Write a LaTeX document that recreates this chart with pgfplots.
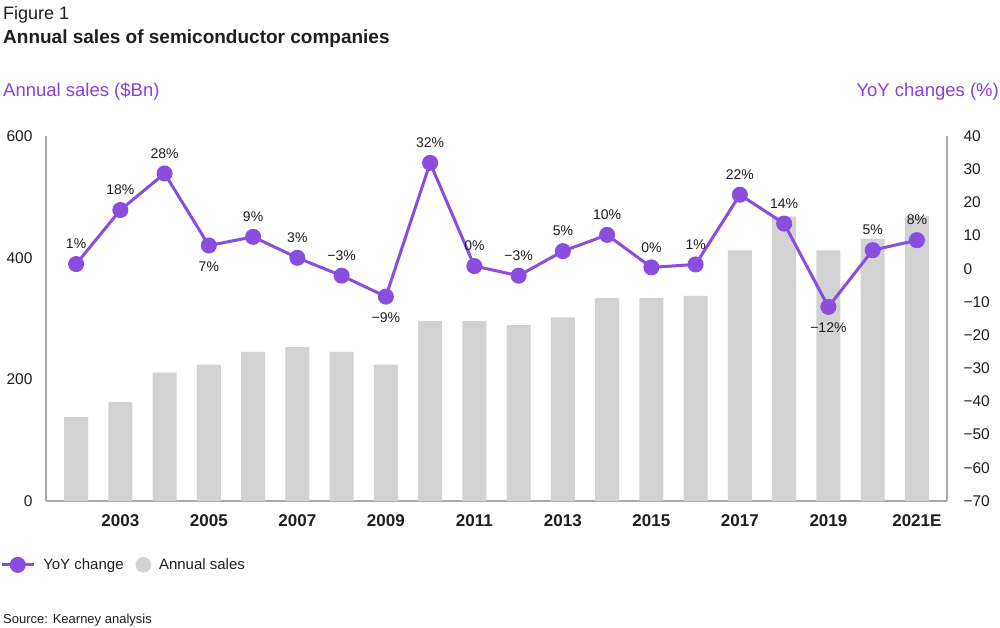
\documentclass[border=0pt]{standalone}
\usepackage{fontspec}
\setmainfont{Liberation Sans}
\usepackage{pgfplots}
\pgfplotsset{compat=1.18}
\usepackage{pgfplotstable}
\definecolor{kpurple}{RGB}{138,78,222}
\definecolor{kpurpletext}{RGB}{135,65,220}
\definecolor{bargray}{RGB}{210,210,210}
\definecolor{axgray}{RGB}{170,170,170}
\definecolor{txt}{RGB}{30,30,30}
\pgfplotsset{mylegend/.style={legend image code/.code={\draw[mark repeat=2,mark phase=2,##1] plot coordinates {(0pt,0pt) (16pt,0pt) (32pt,0pt)};}}}

\pgfplotstableread{
x y
0 138
1 163
2 211
3 224
4 245
5 253
6 245
7 224
8 296
9 296
10 289
11 302
12 334
13 334
14 337
15 412
16 468
17 412
18 431
19 468
}\sales

\pgfplotstableread{
x y
0 1.4
1 17.7
2 28.7
3 7.0
4 9.6
5 3.3
6 -2.1
7 -8.4
8 31.9
9 0.8
10 -2.1
11 5.3
12 10.2
13 0.4
14 1.3
15 22.3
16 13.6
17 -11.5
18 5.6
19 8.6
}\yoy

\begin{document}
\begin{tikzpicture}
\path[use as bounding box] (0,0) rectangle (1000pt,627pt);

\node[anchor=base west, inner sep=0pt, text=txt, font=\fontsize{18}{20}\selectfont] at (3pt,607pt) {Figure 1};
\node[anchor=base west, inner sep=0pt, text=txt, font=\fontsize{19}{21}\selectfont\bfseries] at (3pt,583pt) {Annual sales of semiconductor companies};
\node[anchor=base west, inner sep=0pt, text=kpurpletext, font=\fontsize{18.5}{20}\selectfont] at (3pt,530pt) {Annual sales (\$Bn)};
\node[anchor=base east, inner sep=0pt, text=kpurpletext, font=\fontsize{18.5}{20}\selectfont] at (999pt,530pt) {YoY changes (\%)};
\node[anchor=base west, inner sep=0pt, text=txt, font=\fontsize{13}{15}\selectfont] at (3pt,4pt) {Source: Kearney analysis};

\begin{axis}[
  at={(46pt,126pt)}, anchor=south west,
  width=901pt, height=365pt, scale only axis,
  xmin=-0.68, xmax=19.68, ymin=0, ymax=600,
  axis x line*=bottom, axis y line*=left,
  axis line style={axgray, line width=1.2pt, -},
  major tick length=0pt,
  xtick={1,3,5,7,9,11,13,15,17,19},
  xticklabels={2003,2005,2007,2009,2011,2013,2015,2017,2019,2021E},
  xticklabel style={font=\fontsize{17}{19}\selectfont\bfseries, text=txt, yshift=-10pt},
  ytick={0,200,400,600},
  yticklabel style={font=\fontsize{15.5}{17}\selectfont, text=txt, xshift=-10pt},
  /pgf/number format/assume math mode=true,
  clip=false,
]
\addplot[ybar, bar width=24pt, fill=bargray, draw=none] table[x=x,y=y] {\sales};
\end{axis}

\begin{axis}[
  at={(46pt,126pt)}, anchor=south west,
  width=901pt, height=365pt, scale only axis,
  xmin=-0.68, xmax=19.68, ymin=-70, ymax=40,
  axis x line=none, axis y line*=right,
  axis line style={axgray, line width=1.2pt, -},
  major tick length=0pt,
  ytick={-70,-60,-50,-40,-30,-20,-10,0,10,20,30,40},
  yticklabels={−70,−60,−50,−40,−30,−20,−10,0,10,20,30,40},
  yticklabel style={font=\fontsize{15.5}{17}\selectfont, text=txt, anchor=west, xshift=13pt},
  clip=false,
  legend style={at={(axis description cs:-0.051,-0.175)}, anchor=west, draw=none, fill=none,
    legend columns=2, font=\fontsize{15}{17}\selectfont, text=txt, inner xsep=0pt,
    /tikz/every odd column/.append style={column sep=6pt},
    /tikz/every even column/.append style={column sep=10pt}},
]
\addplot[kpurple, line width=3pt, mark=*, mark size=6.5pt, mark options={fill=kpurple, draw=none}, mylegend] table[x=x,y=y] {\yoy};
\addlegendentry{YoY change}
\addlegendimage{legend image code/.code={\fill[bargray] (8pt,0pt) circle (7.5pt);}}
\addlegendentry{Annual sales}

% labels above points
\addplot[draw=none, forget plot, nodes near coords, point meta=explicit symbolic,
  every node near coord/.append style={font=\fontsize{14}{16}\selectfont, text=txt, inner sep=0pt, anchor=south, yshift=15pt}]
coordinates {
(0,1.4) [1\%]
(1,17.7) [18\%]
(2,28.7) [28\%]
(4,9.6) [9\%]
(5,3.3) [3\%]
(6,-2.1) [−3\%]
(8,31.9) [32\%]
(9,0.8) [0\%]
(10,-2.1) [−3\%]
(11,5.3) [5\%]
(12,10.2) [10\%]
(13,0.4) [0\%]
(14,1.3) [1\%]
(15,22.3) [22\%]
(16,13.6) [14\%]
(18,5.6) [5\%]
(19,8.6) [8\%]
};
% labels below points
\addplot[draw=none, forget plot, nodes near coords, point meta=explicit symbolic,
  every node near coord/.append style={font=\fontsize{14}{16}\selectfont, text=txt, inner sep=0pt, anchor=north, yshift=-16pt}]
coordinates {
(3,7.0) [7\%]
(7,-8.4) [−9\%]
(17,-11.5) [−12\%]
};
\end{axis}
\end{tikzpicture}
\end{document}
